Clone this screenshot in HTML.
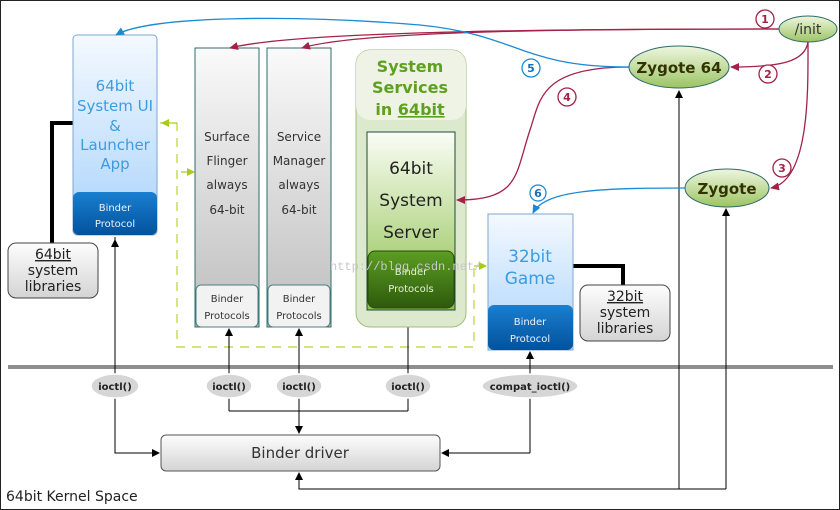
<!DOCTYPE html>
<html><head><meta charset="utf-8"><style>
html,body{margin:0;padding:0;background:#fff;}
svg{display:block;font-family:"DejaVu Sans","Liberation Sans",sans-serif;}
</style></head><body>
<svg width="840" height="510" viewBox="0 0 840 510" xmlns="http://www.w3.org/2000/svg">
<defs>
<linearGradient id="blue" x1="0" y1="0" x2="0" y2="1"><stop offset="0" stop-color="#f4f9ff"/><stop offset="1" stop-color="#a9d3fb"/></linearGradient>
<linearGradient id="dblue" x1="0" y1="0" x2="0" y2="1"><stop offset="0" stop-color="#1a7fd0"/><stop offset="1" stop-color="#03529c"/></linearGradient>
<linearGradient id="gray" x1="0" y1="0" x2="0" y2="1"><stop offset="0" stop-color="#fafafa"/><stop offset="1" stop-color="#bdbdbd"/></linearGradient>
<linearGradient id="lgray" x1="0" y1="0" x2="0" y2="1"><stop offset="0" stop-color="#fdfdfd"/><stop offset="1" stop-color="#d4d4d4"/></linearGradient>
<linearGradient id="green" x1="0" y1="0" x2="0" y2="1"><stop offset="0" stop-color="#fafdf5"/><stop offset="1" stop-color="#8cbf4a"/></linearGradient>
<linearGradient id="dgreen" x1="0" y1="0" x2="0" y2="1"><stop offset="0" stop-color="#5c9e23"/><stop offset="1" stop-color="#2d5a0c"/></linearGradient>
<linearGradient id="zy" x1="0" y1="0" x2="0" y2="1"><stop offset="0" stop-color="#eef6df"/><stop offset="1" stop-color="#9cc463"/></linearGradient>
<marker id="ab" markerWidth="8" markerHeight="8" refX="7" refY="4" orient="auto" markerUnits="userSpaceOnUse"><path d="M0,0 L8,4 L0,8 z" fill="#000"/></marker>
<marker id="ar" markerWidth="9" markerHeight="8" refX="8" refY="4" orient="auto" markerUnits="userSpaceOnUse"><path d="M0,0 L9,4 L0,8 z" fill="#a3224a"/></marker>
<marker id="abl" markerWidth="9" markerHeight="8" refX="8" refY="4" orient="auto" markerUnits="userSpaceOnUse"><path d="M0,0 L9,4 L0,8 z" fill="#1b8ad6"/></marker>
<marker id="ag" markerWidth="8" markerHeight="8" refX="7" refY="4" orient="auto" markerUnits="userSpaceOnUse"><path d="M0,0 L8,4 L0,8 z" fill="#a8cc14"/></marker>
</defs>
<rect x="0.5" y="0.5" width="839" height="509" fill="#fff" stroke="#222"/>

<!-- dashed group -->
<path d="M160,123 H177 V347 H474 V262" fill="none" stroke="#b8d434" stroke-width="1.2" stroke-dasharray="9,7"/>
<path d="M177,123 H162" fill="none" stroke="#a8cc14" stroke-width="1.2" marker-end="url(#ag)"/>
<path d="M181,172 H194" fill="none" stroke="#a8cc14" stroke-width="1.2" marker-end="url(#ag)"/>
<path d="M474,266 H486" fill="none" stroke="#a8cc14" stroke-width="1.2" marker-end="url(#ag)"/>

<!-- kernel line -->
<rect x="8" y="365" width="825" height="4" fill="#8e8e8e"/>

<!-- black connectors -->
<g stroke="#000" stroke-width="1" fill="none">
<path d="M115,237 V453 H159" marker-end="url(#ab)"/>
<path d="M115,453 V240" marker-end="url(#ab)"/>
<path d="M229,411 V329" marker-end="url(#ab)"/>
<path d="M299,411 V329" marker-end="url(#ab)"/>
<path d="M408,411 V312" marker-end="url(#ab)"/>
<path d="M229,411 H408"/>
<path d="M299,411 V433" marker-end="url(#ab)"/>
<path d="M530,453 V352" marker-end="url(#ab)"/>
<path d="M530,453 H442" marker-end="url(#ab)"/>
<path d="M726,489 V209" marker-end="url(#ab)"/>
<path d="M679,489 V91" marker-end="url(#ab)"/>
<path d="M726,489 H299 V473" marker-end="url(#ab)"/>
</g>
<path d="M52,243 V123 H73" fill="none" stroke="#000" stroke-width="4"/>
<path d="M573,266 H623 V285" fill="none" stroke="#000" stroke-width="4"/>

<!-- System UI -->
<rect x="73" y="35" width="84" height="200" rx="4" fill="url(#blue)" stroke="#7fa6cf"/>
<rect x="73" y="192" width="84" height="43" rx="6" fill="url(#dblue)"/>
<g fill="#3d9be0" font-size="15" text-anchor="middle"><text x="115" y="91">64bit</text><text x="115" y="111">System UI</text><text x="115" y="131">&amp;</text><text x="115" y="150">Launcher</text><text x="115" y="169">App</text></g>
<g fill="#e8f2fb" font-size="10" text-anchor="middle"><text x="115" y="211">Binder</text><text x="115" y="227">Protocol</text></g>

<!-- 64bit libs -->
<rect x="8" y="243" width="90" height="55" rx="8" fill="url(#lgray)" stroke="#444"/>
<g fill="#222" font-size="14" text-anchor="middle"><text x="53" y="259" text-decoration="underline">64bit</text><text x="53" y="275">system</text><text x="53" y="291">libraries</text></g>

<!-- Surface flinger / service manager -->
<rect x="195" y="48" width="64" height="279" fill="url(#gray)" stroke="#2e6b6b"/>
<rect x="196" y="285" width="62" height="42" rx="5" fill="#f2f2f2" stroke="#4c8080"/>
<rect x="267" y="48" width="64" height="279" fill="url(#gray)" stroke="#2e6b6b"/>
<rect x="268" y="285" width="62" height="42" rx="5" fill="#f2f2f2" stroke="#4c8080"/>
<g fill="#333" font-size="12" text-anchor="middle">
<text x="227" y="141">Surface</text><text x="227" y="165">Flinger</text><text x="227" y="189">always</text><text x="227" y="214">64-bit</text>
<text x="299" y="141">Service</text><text x="299" y="165">Manager</text><text x="299" y="189">always</text><text x="299" y="214">64-bit</text>
</g>
<g fill="#333" font-size="10" text-anchor="middle"><text x="227" y="302">Binder</text><text x="227" y="319">Protocols</text><text x="299" y="302">Binder</text><text x="299" y="319">Protocols</text></g>

<!-- System services -->
<rect x="356" y="50" width="110" height="277" rx="14" fill="#dde9cd" stroke="#9fbf7a"/>
<rect x="356" y="50" width="110" height="70" rx="14" fill="#eef3e6"/>
<g fill="#5fa020" font-size="16" font-weight="bold" text-anchor="middle"><text x="410" y="72">System</text><text x="410" y="93">Services</text><text x="410" y="115">in <tspan text-decoration="underline">64bit</tspan></text></g>
<rect x="367" y="132" width="88" height="178" fill="url(#green)" stroke="#1c4a3a"/>
<rect x="368" y="251" width="86" height="57" rx="7" fill="url(#dgreen)" stroke="#2a4a10"/>
<g fill="#222" font-size="17" text-anchor="middle"><text x="411" y="174">64bit</text><text x="411" y="206">System</text><text x="411" y="238">Server</text></g>
<g fill="#e6f0dc" font-size="10" text-anchor="middle"><text x="411" y="275">Binder</text><text x="411" y="292">Protocols</text></g>

<!-- 32bit game -->
<rect x="488" y="214" width="85" height="136" fill="url(#blue)" stroke="#7fa6cf"/>
<rect x="488" y="305" width="85" height="45" rx="6" fill="url(#dblue)"/>
<g fill="#3d9be0" font-size="17" text-anchor="middle"><text x="530" y="262">32bit</text><text x="530" y="284">Game</text></g>
<g fill="#e8f2fb" font-size="10" text-anchor="middle"><text x="530" y="325">Binder</text><text x="530" y="342">Protocol</text></g>

<!-- 32bit libs -->
<rect x="580" y="285" width="90" height="56" rx="8" fill="url(#lgray)" stroke="#444"/>
<g fill="#222" font-size="14" text-anchor="middle"><text x="625" y="301" text-decoration="underline">32bit</text><text x="625" y="317">system</text><text x="625" y="333">libraries</text></g>

<!-- watermark -->
<text x="330" y="270" fill="#c8c8c8" font-size="12" font-family="Liberation Mono,monospace">http://blog.csdn.net/</text>

<!-- ioctl ellipses -->
<g fill="#d6d6d6" stroke="#fff" stroke-width="1.5">
<ellipse cx="115" cy="386" rx="24" ry="12"/><ellipse cx="229" cy="386" rx="23" ry="12"/><ellipse cx="299" cy="386" rx="23" ry="12"/><ellipse cx="408" cy="386" rx="23" ry="12"/><ellipse cx="530" cy="386" rx="48" ry="12"/>
</g>
<g fill="#222" font-size="10" font-weight="bold" text-anchor="middle"><text x="115" y="390">ioctl()</text><text x="229" y="390">ioctl()</text><text x="299" y="390">ioctl()</text><text x="408" y="390">ioctl()</text><text x="530" y="390">compat_ioctl()</text></g>

<!-- binder driver -->
<rect x="161" y="435" width="279" height="36" rx="5" fill="url(#lgray)" stroke="#555"/>
<text x="300" y="458" fill="#333" font-size="15" text-anchor="middle">Binder driver</text>
<text x="6" y="501" fill="#222" font-size="14">64bit Kernel Space</text>

<!-- colored curves -->
<g fill="none" stroke-width="1.3">
<path d="M779,29 C600,29 300,30 230,48" stroke="#a3224a" marker-end="url(#ar)"/>
<path d="M779,29 C600,29 360,30 302,48" stroke="#a3224a" marker-end="url(#ar)"/>
<path d="M808,42 C805,62 780,67 731,67" stroke="#a3224a" marker-end="url(#ar)"/>
<path d="M808,42 C808,90 810,180 771,188" stroke="#a3224a" marker-end="url(#ar)"/>
<path d="M629,67 C540,67 540,100 530,130 C515,175 520,200 457,200" stroke="#a3224a" marker-end="url(#ar)"/>
<path d="M629,67 C520,67 520,35 420,25 C300,15 150,15 116,35" stroke="#1b8ad6" marker-end="url(#abl)"/>
<path d="M685,188 C600,188 545,190 533,213" stroke="#1b8ad6" marker-end="url(#abl)"/>
</g>

<!-- zygotes -->
<ellipse cx="679" cy="67" rx="50" ry="21" fill="url(#zy)" stroke="#2f6a6a"/>
<text x="679" y="73" fill="#333300" font-size="15" font-weight="bold" text-anchor="middle">Zygote 64</text>
<ellipse cx="727" cy="188" rx="42" ry="19" fill="url(#zy)" stroke="#2f6a6a"/>
<text x="727" y="194" fill="#333300" font-size="15" font-weight="bold" text-anchor="middle">Zygote</text>
<ellipse cx="808" cy="29" rx="29" ry="13" fill="url(#zy)" stroke="#2f6a6a"/>
<text x="808" y="34" fill="#333" font-size="14" text-anchor="middle">/init</text>

<!-- numbers -->
<g font-size="11" font-weight="bold" text-anchor="middle">
<circle cx="765" cy="19" r="9" fill="#fff" stroke="#a3224a" stroke-width="1.3"/><text x="765" y="23" fill="#a3224a">1</text>
<circle cx="768" cy="74" r="9" fill="#fff" stroke="#a3224a" stroke-width="1.3"/><text x="768" y="78" fill="#a3224a">2</text>
<circle cx="782" cy="168" r="9" fill="#fff" stroke="#a3224a" stroke-width="1.3"/><text x="782" y="172" fill="#a3224a">3</text>
<circle cx="567" cy="97" r="9" fill="#fff" stroke="#a3224a" stroke-width="1.3"/><text x="567" y="101" fill="#a3224a">4</text>
<circle cx="531" cy="68" r="9" fill="#fff" stroke="#1b8ad6" stroke-width="1.3"/><text x="531" y="72" fill="#1b6fb0">5</text>
<circle cx="538" cy="193" r="8" fill="#fff" stroke="#1b8ad6" stroke-width="1.3"/><text x="538" y="197" fill="#1b6fb0">6</text>
</g>
</svg>
</body></html>
